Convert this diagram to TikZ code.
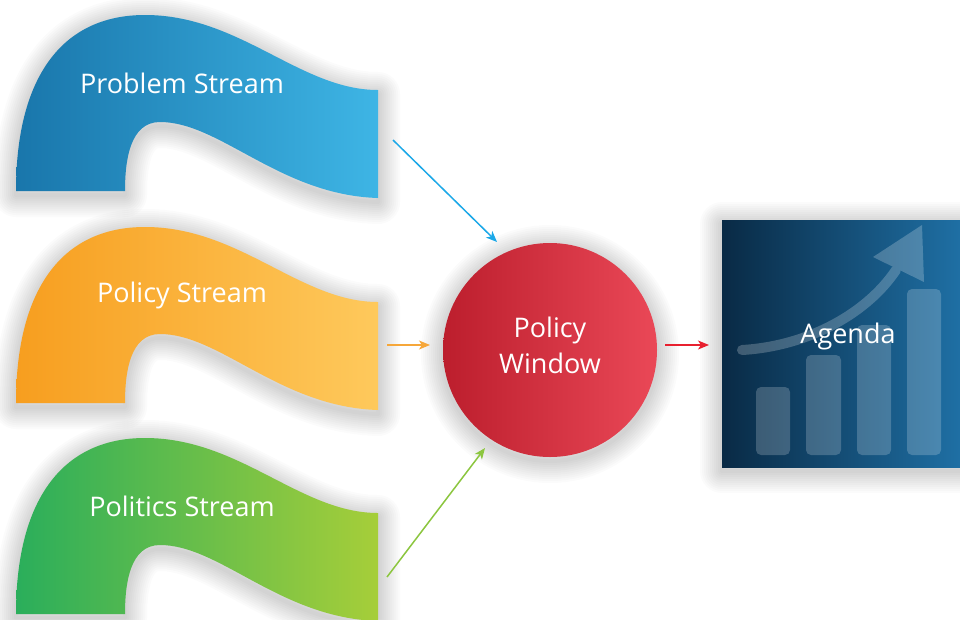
\documentclass[tikz,border=0pt]{standalone}
\usepackage{fontspec}
\setmainfont{Open Sans}
\usetikzlibrary{arrows.meta}
\definecolor{probL}{HTML}{1976AB}
\definecolor{probR}{HTML}{3EB5E5}
\definecolor{polL}{HTML}{F79E1F}
\definecolor{polR}{HTML}{FEC95C}
\definecolor{polsL}{HTML}{2AAE5B}
\definecolor{polsR}{HTML}{A6CE39}
\definecolor{pwL}{HTML}{BC1E2D}
\definecolor{pwR}{HTML}{EA4857}
\definecolor{agL}{HTML}{092A45}
\definecolor{agR}{HTML}{1F70A5}
\definecolor{arBlue}{HTML}{1BA8E8}
\definecolor{arOrange}{HTML}{F6A73A}
\definecolor{arGreen}{HTML}{8CC63F}
\definecolor{arRed}{HTML}{E8202F}
\newcommand\streamshape{(16,191) .. controls (16,80) and (60,15) .. (145,15) .. controls (240,15) and (300,90) .. (378,90) -- (378,198) .. controls (280,195) and (220,122) .. (160,122) .. controls (130,122) and (125,160) .. (125,191) -- cycle}
\newcommand\circshape{(550,350) circle[radius=107]}
\newcommand\boxshape{(722,220) rectangle (962,467)}
\newcommand\mysoftshadow[1]{%
  \foreach \w in {44,40,...,4}{%
    \path[draw=black, draw opacity=0.014, line width=\w pt, line join=round, shift={(0,4)}] #1;}}
\begin{document}
\begin{tikzpicture}[x=1pt,y=-1pt,
  label/.style={text=white, font=\fontsize{27}{36}\selectfont},
  conn/.style={line width=1.5pt, -{Stealth[length=11pt,width=9pt,inset=3pt]}},
  bar/.style={fill=white, fill opacity=0.2, rounded corners=5pt}]
\useasboundingbox (0,0) rectangle (960,619);
\fill[white] (0,0) rectangle (960,619);
% streams
\mysoftshadow{\streamshape}
\path[left color=probL, right color=probR] \streamshape;
\node[label] (prob) at (182,83) {Problem Stream};
\begin{scope}[shift={(0,212)}]
\mysoftshadow{\streamshape}
\path[left color=polL, right color=polR] \streamshape;
\node[label] (pol) at (182,83) {Policy Stream};
\end{scope}
\begin{scope}[shift={(0,423)}]
\mysoftshadow{\streamshape}
\path[left color=polsL, right color=polsR] \streamshape;
\node[label] (pols) at (182,83) {Politics Stream};
\end{scope}
% policy window
\mysoftshadow{\circshape}
\path[left color=pwL, right color=pwR] \circshape;
\node[circle, minimum size=214pt, inner sep=0pt, label, align=center] (pw) at (550,345) {Policy\\Window};
% agenda box
\mysoftshadow{\boxshape}
\node[rectangle, anchor=north west, minimum width=240pt, minimum height=247pt, inner sep=0pt, left color=agL, right color=agR] (agbox) at (722,220) {};
\path[bar] (756,387) rectangle (790,455);
\path[bar] (806,355) rectangle (841,455);
\path[bar] (857,325) rectangle (891,455);
\path[bar] (907,289) rectangle (941,455);
\begin{scope}[transparency group, opacity=0.22]
\draw[white, line width=10pt, line cap=round] (742,350) .. controls (810,346) and (868,312) .. (896,270);
\fill[white] (922,225) -- (873,257) -- (924,282) -- cycle;
\end{scope}
\node[label] (agenda) at (848,336) {Agenda};
% connectors
\coordinate (bS) at (393,140);
\coordinate (bE) at (497,242);
\coordinate (oS) at (387,345);
\coordinate (oE) at (430,345);
\coordinate (gS) at (387,577);
\coordinate (gE) at (485,448);
\coordinate (rS) at (665,345);
\coordinate (rE) at (709,345);
\draw[conn, arBlue] (bS) -- (bE);
\draw[conn, arOrange] (oS) -- (oE);
\draw[conn, arGreen] (gS) -- (gE);
\draw[conn, arRed] (rS) -- (rE);
\end{tikzpicture}
\end{document}
